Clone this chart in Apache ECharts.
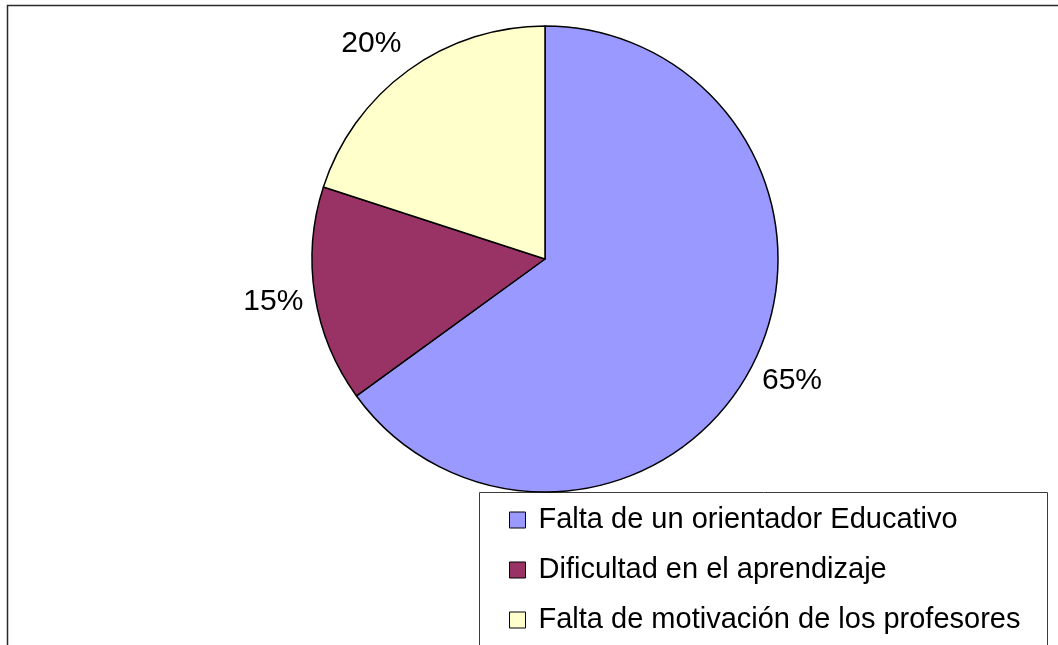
<!DOCTYPE html>
<html>
<head>
<meta charset="utf-8">
<script src="https://cdn.jsdelivr.net/npm/echarts@6/dist/echarts.min.js"></script>
<style>
html,body{margin:0;padding:0;background:#fff;}
#chart{width:1058px;height:645px;}
</style>
</head>
<body>
<div id="chart"></div>
<script>
var categories = ['Falta de un orientador Educativo', 'Dificultad en el aprendizaje', 'Falta de motivación de los profesores'];
var values = [65, 15, 20];

// styling (kept separate from the data)
var colors = ['#9999FF', '#993366', '#FFFFCC'];
var labelNudge = [[2, -3], [0, 0], [-12, 7]];

var FONT = 'Liberation Sans, Arial, sans-serif';
var pieData = categories.map(function (c, i) {
  return { name: c, value: values[i], itemStyle: { color: colors[i] } };
});
var labelData = categories.map(function (c, i) {
  return { name: c, value: values[i], label: { offset: labelNudge[i] } };
});

var chart = echarts.init(document.getElementById('chart'), null, { renderer: 'canvas' });
chart.setOption({
  backgroundColor: '#ffffff',
  animation: false,
  graphic: [
    { type: 'rect', shape: { x: 7.5, y: 5.5, width: 1200, height: 800 },
      style: { fill: 'none', stroke: '#2a2a2a', lineWidth: 1.5 }, z: 0, silent: true },
    { type: 'rect', shape: { x: 479.5, y: 492.5, width: 568, height: 300 },
      style: { fill: '#ffffff', stroke: '#3a3a3a', lineWidth: 1 }, z: 1, silent: true }
  ],
  legend: {
    orient: 'vertical',
    left: 509,
    top: 503,
    padding: 0,
    itemWidth: 16,
    itemHeight: 16,
    itemGap: 16,
    icon: 'rect',
    data: categories,
    selectedMode: false,
    itemStyle: { borderColor: '#000', borderWidth: 1 },
    textStyle: { fontFamily: FONT, fontSize: 29, color: '#000', lineHeight: 34, padding: [0, 0, 0, 8] },
    z: 5
  },
  series: [
    {
      type: 'pie',
      center: [545, 259],
      radius: [0, 233],
      startAngle: 90,
      clockwise: true,
      silent: true,
      data: pieData,
      itemStyle: { borderColor: '#000', borderWidth: 1.5 },
      label: { show: false },
      labelLine: { show: false },
      emphasis: { disabled: true }
    },
    {
      type: 'pie',
      center: [545, 259],
      radius: [240, 304],
      startAngle: 90,
      clockwise: true,
      silent: true,
      data: labelData,
      itemStyle: { color: 'transparent', borderWidth: 0 },
      label: {
        show: true,
        position: 'inside',
        formatter: '{c}%',
        fontFamily: FONT,
        fontSize: 30,
        color: '#000'
      },
      labelLine: { show: false },
      emphasis: { disabled: true }
    }
  ]
});
</script>
</body>
</html>
